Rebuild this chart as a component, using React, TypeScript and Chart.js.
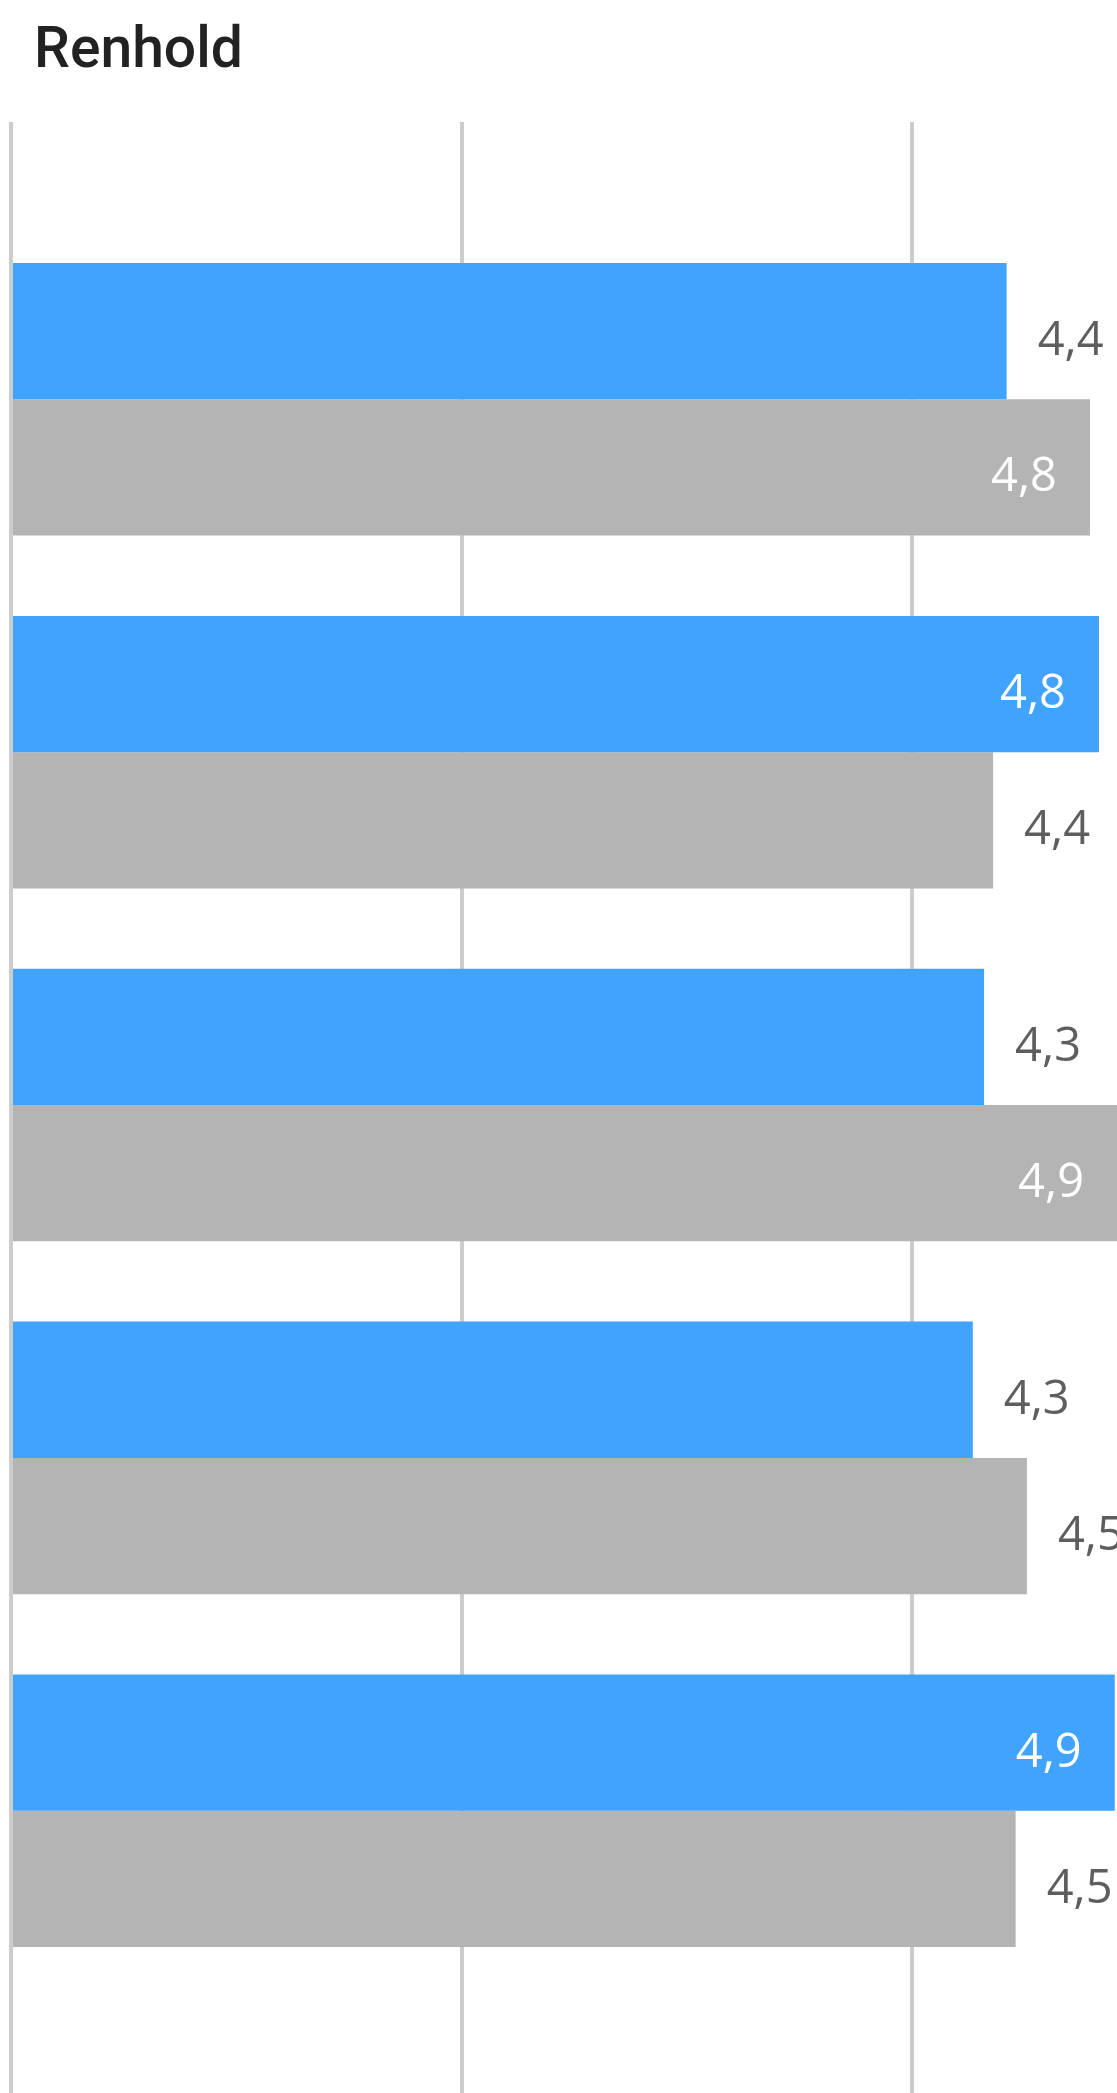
import React, { useEffect, useRef } from 'react';
import { Chart, registerables } from 'chart.js';

Chart.register(...registerables);

const title = 'Renhold';
const categories = ['Kategori 1', 'Kategori 2', 'Kategori 3', 'Kategori 4', 'Kategori 5'];
const seriesNames = ['Resultat', 'Sammenligning'];
const blueValues = [4.42, 4.83, 4.32, 4.27, 4.9];
const grayValues = [4.79, 4.36, 4.91, 4.51, 4.46];
const xTickValues = [0, 2, 4];
const xMax = 4.91;

const W = 1117;
const H = 2093;

const valueLabels = {
  id: 'valueLabels',
  afterDatasetsDraw(chart: any) {
    const ctx = chart.ctx;
    ctx.save();
    ctx.font = '47px "Open Sans"';
    ctx.textBaseline = 'alphabetic';
    chart.data.datasets.forEach((ds: any, di: number) => {
      const meta = chart.getDatasetMeta(di);
      meta.data.forEach((el: any, i: number) => {
        const v = ds.data[i].x as number;
        const text = v.toFixed(1).replace('.', ',');
        const w = ctx.measureText(text).width;
        const y = el.y + 24;
        if (el.x + 31 + w > chart.width + 8) {
          ctx.fillStyle = '#ffffff';
          ctx.textAlign = 'right';
          ctx.fillText(text, el.x - 33, y);
        } else {
          ctx.fillStyle = '#5e5e5e';
          ctx.textAlign = 'left';
          ctx.fillText(text, el.x + 31, y);
        }
      });
    });
    ctx.restore();
  },
};

export default function App() {
  const ref = useRef<HTMLCanvasElement | null>(null);

  useEffect(() => {
    if (!ref.current) return;
    const chart = new Chart(ref.current, {
      type: 'bar',
      data: {
        labels: categories,
        datasets: [
          {
            label: seriesNames[0],
            data: blueValues.map((v, i) => ({ x: v, y: i })),
            backgroundColor: '#40a4ff',
            borderWidth: 0,
            categoryPercentage: 0.7725,
            barPercentage: 1,
          },
          {
            label: seriesNames[1],
            data: grayValues.map((v, i) => ({ x: v, y: i })),
            backgroundColor: '#b4b4b4',
            borderWidth: 0,
            categoryPercentage: 0.7725,
            barPercentage: 1,
          },
        ],
      },
      options: {
        indexAxis: 'y',
        responsive: false,
        animation: false,
        layout: { padding: { top: 122, left: 11, right: 0, bottom: 0 } },
        plugins: {
          legend: { display: false },
          tooltip: { enabled: false },
          title: { display: false },
        },
        scales: {
          x: {
            type: 'linear',
            min: 0,
            max: xMax,
            position: 'bottom',
            afterBuildTicks: (scale: any) => {
              scale.ticks = xTickValues.map((v) => ({ value: v }));
            },
            ticks: { display: false },
            grid: {
              color: '#cccccc',
              lineWidth: 4,
              drawTicks: false,
            },
            border: { display: false },
          },
          y: {
            type: 'linear',
            min: -0.786,
            max: 4.8,
            reverse: true,
            offset: false,
            display: false,
            afterBuildTicks: (scale: any) => {
              scale.ticks = categories.map((_, i) => ({ value: i }));
            },
            grid: { display: false, offset: false },
          },
        },
      },
      plugins: [valueLabels],
    } as any);
    return () => chart.destroy();
  }, []);

  return (
    <div style={{ position: 'absolute', left: 0, top: 0, width: W, height: H, background: '#ffffff' }}>
      <div
        style={{
          position: 'absolute',
          left: 34,
          top: 19,
          fontFamily: 'Roboto, sans-serif',
          fontWeight: 500,
          fontSize: 57,
          lineHeight: 1,
          color: '#222222',
          whiteSpace: 'nowrap',
        }}
      >
        {title}
      </div>
      <canvas ref={ref} width={W} height={H} style={{ position: 'absolute', left: 0, top: 0, display: 'block' }} />
    </div>
  );
}
